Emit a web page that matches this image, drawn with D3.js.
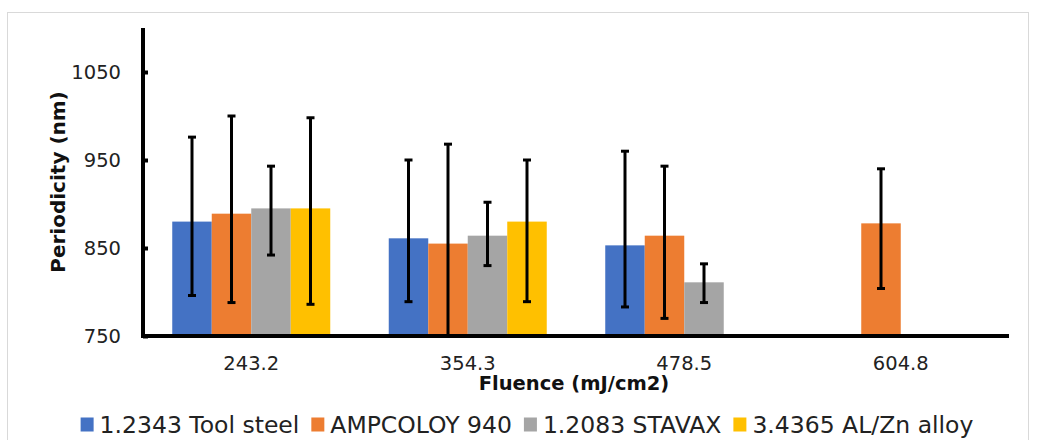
<!DOCTYPE html>
<html><head><meta charset="utf-8">
<script src="https://cdn.jsdelivr.net/npm/d3@7"></script>
<style>html,body{margin:0;padding:0;background:#fff;}svg{display:block;font-family:"DejaVu Sans",Verdana,sans-serif;}</style>
</head><body>
<svg id="c" width="1038" height="440"></svg>
<script>
const categories = ["243.2", "354.3", "478.5", "604.8"];
const seriesNames = ["1.2343 Tool steel", "AMPCOLOY 940", "1.2083 STAVAX", "3.4365 AL/Zn alloy"];
const colors = ["#4472C4", "#ED7D31", "#A5A5A5", "#FFC000"];
const toolSteel = [880, 861, 853, null];
const ampcoloy = [889, 855, 864, 878];
const stavax = [895, 864, 811, null];
const alZn = [895, 880, null, null];
const toolSteelErrPlus = [96, 89, 107, null];
const toolSteelErrMinus = [84, 72, 70, null];
const ampcoloyErrPlus = [111, 113, 79, 62];
const ampcoloyErrMinus = [101, 113, 94, 74];
const stavaxErrPlus = [48, 38, 21, null];
const stavaxErrMinus = [53, 34, 23, null];
const alZnErrPlus = [103, 70, null, null];
const alZnErrMinus = [109, 91, null, null];
const yTicks = [750, 850, 950, 1050];
const yDomain = [750, 1100];
const xTitle = "Fluence (mJ/cm2)";
const yTitle = "Periodicity (nm)";

const values = [toolSteel, ampcoloy, stavax, alZn];
const errPlus = [toolSteelErrPlus, ampcoloyErrPlus, stavaxErrPlus, alZnErrPlus];
const errMinus = [toolSteelErrMinus, ampcoloyErrMinus, stavaxErrMinus, alZnErrMinus];

const svg = d3.select("#c");
svg.append("rect").attr("x", 7.5).attr("y", 12.5).attr("width", 1021).attr("height", 440)
  .attr("fill", "#fff").attr("stroke", "#d9d9d9").attr("stroke-width", 1);

const L = 143, R = 1009, T = 28, B = 336;
const x0 = d3.scaleBand().domain(categories).range([L, R]).paddingInner(0).paddingOuter(0);
const bw = 39.5;
const x1 = d3.scaleBand().domain(seriesNames).range([x0.bandwidth()/2 - 2*bw, x0.bandwidth()/2 + 2*bw]).padding(0);
const y = d3.scaleLinear().domain(yDomain).range([B, T]);

const data = [];
categories.forEach((c, i) => seriesNames.forEach((s, j) => {
  const v = values[j][i];
  if (v != null) data.push({c, s, j, v, p: errPlus[j][i], m: errMinus[j][i]});
}));

const g = svg.append("g");
g.selectAll("rect.bar").data(data).enter().append("rect").attr("class", "bar")
  .attr("x", d => x0(d.c) + x1(d.s)).attr("width", x1.bandwidth())
  .attr("y", d => y(d.v)).attr("height", d => y(yDomain[0]) - y(d.v))
  .attr("fill", d => colors[d.j]);

// error bars
const eg = g.selectAll("g.err").data(data).enter().append("g").attr("class", "err")
  .attr("transform", d => `translate(${x0(d.c) + x1(d.s) + x1.bandwidth()/2},0)`);
eg.append("line").attr("y1", d => y(d.v + d.p)).attr("y2", d => y(Math.max(yDomain[0], d.v - d.m)))
  .attr("stroke", "#000").attr("stroke-width", 3);
eg.append("line").attr("x1", -4).attr("x2", 4).attr("y1", d => y(d.v + d.p)).attr("y2", d => y(d.v + d.p))
  .attr("stroke", "#000").attr("stroke-width", 3);
eg.append("line").attr("x1", -4).attr("x2", 4).attr("y1", d => y(Math.max(yDomain[0], d.v - d.m))).attr("y2", d => y(Math.max(yDomain[0], d.v - d.m)))
  .attr("stroke", "#000").attr("stroke-width", 3);

// y axis
const ya = svg.append("g").attr("transform", `translate(${L},0)`)
  .call(d3.axisLeft(y).tickValues(yTicks).tickSize(-5).tickPadding(22).tickFormat(d3.format("d")));
ya.select(".domain").remove();
ya.selectAll(".tick line").attr("stroke", "#000").attr("stroke-width", 4);
ya.selectAll(".tick text").attr("font-size", 19.5).attr("fill", "#222").attr("font-family", "DejaVu Sans");
svg.append("line").attr("x1", L).attr("x2", L).attr("y1", T).attr("y2", B + 2).attr("stroke", "#000").attr("stroke-width", 4);

// x axis
const xa = svg.append("g").attr("transform", `translate(0,${B})`)
  .call(d3.axisBottom(x0).tickSize(0).tickPadding(20));
xa.select(".domain").remove();
xa.selectAll(".tick text").attr("font-size", 19.5).attr("fill", "#222").attr("font-family", "DejaVu Sans");
svg.append("line").attr("x1", L - 2).attr("x2", R).attr("y1", B).attr("y2", B).attr("stroke", "#000").attr("stroke-width", 4);

// titles
svg.append("text").attr("x", 574).attr("y", 390).attr("text-anchor", "middle")
  .attr("font-size", 19.5).attr("font-weight", "bold").attr("fill", "#111").text(xTitle);
svg.append("text").attr("transform", "translate(65,182) rotate(-90)").attr("text-anchor", "middle")
  .attr("font-size", 20).attr("font-weight", "bold").attr("fill", "#111").text(yTitle);

// legend
const lg = svg.append("g");
let lx = 0;
seriesNames.forEach((s, j) => {
  const it = lg.append("g");
  it.append("rect").attr("x", 0).attr("y", -15.5).attr("width", 13).attr("height", 14).attr("fill", colors[j]);
  const t = it.append("text").attr("x", 19).attr("y", 0).attr("font-size", 23.5).attr("fill", "#222").text(s);
  const w = t.node().getComputedTextLength();
  it.attr("transform", `translate(${lx},0)`);
  lx += 19 + w + 12;
});
const totalW = lx - 12;
lg.attr("transform", `translate(${527 - totalW/2},433)`);
</script>
</body></html>
